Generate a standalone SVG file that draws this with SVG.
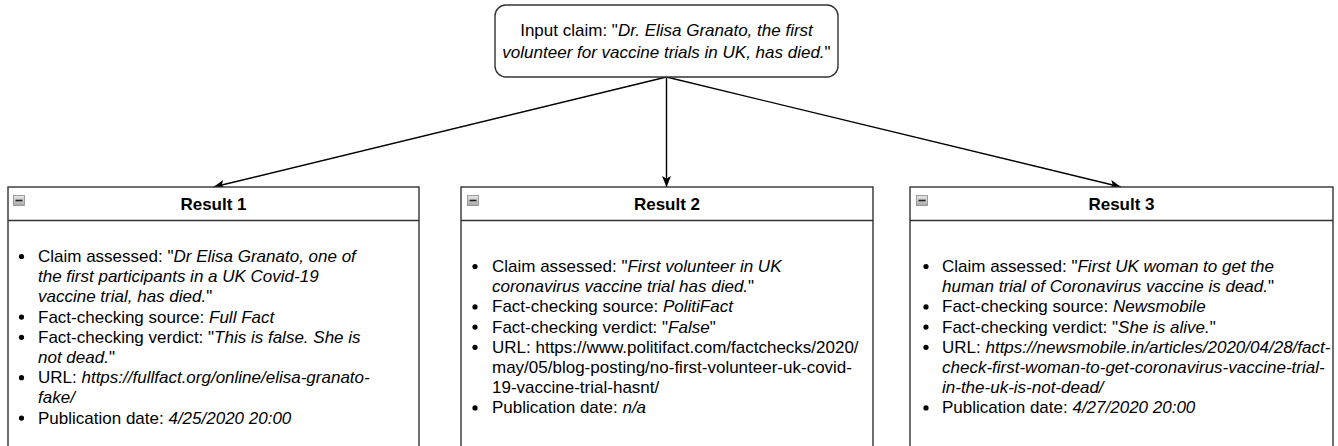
<svg xmlns="http://www.w3.org/2000/svg" width="1338" height="446" viewBox="0 0 1338 446">
<defs>
<marker id="arr" markerUnits="userSpaceOnUse" markerWidth="12" markerHeight="10" refX="11" refY="4.5" orient="auto">
<path d="M0,0 L11,4.5 L0,9 L2.5,4.5 z" fill="#000"/>
</marker>
<linearGradient id="ig" x1="0" y1="0" x2="0" y2="1">
<stop offset="0" stop-color="#e8e8e8"/>
<stop offset="1" stop-color="#a8a8a8"/>
</linearGradient>
</defs>
<style>
text{font-family:"Liberation Sans",Arial,sans-serif;font-size:17px;fill:#000}
.i{font-style:italic}
.t{font-weight:bold;text-anchor:middle}
.box{fill:#fff;stroke:#333;stroke-width:1.4}
.edge{stroke:#000;stroke-width:1.4;fill:none}
.icon{fill:url(#ig);stroke:#8a8a8a;stroke-width:0.8}
.minus{stroke:#222;stroke-width:1.6}
</style>
<rect width="1338" height="446" fill="#fff"/>
<g id="connectors">
<line class="edge" x1="666.5" y1="77" x2="213.5" y2="187" marker-end="url(#arr)"/>
<line class="edge" x1="666.5" y1="77" x2="666.5" y2="187" marker-end="url(#arr)"/>
<line class="edge" x1="666.5" y1="77" x2="1121" y2="187" marker-end="url(#arr)"/>
</g>
<g id="input">
<rect x="495" y="5" width="343" height="72" rx="11" ry="11" class="box"/>
<text x="666.5" y="36" text-anchor="middle">Input claim: "<tspan class="i">Dr. Elisa Granato, the first</tspan></text>
<text x="666.5" y="58" text-anchor="middle"><tspan class="i">volunteer for vaccine trials in UK, has died.</tspan>"</text>
</g>
<g id="result1">
<rect x="8" y="187" width="411" height="290" class="box"/>
<line x1="8" y1="220.5" x2="419" y2="220.5" stroke="#333" stroke-width="1.4"/>
<rect x="13.5" y="195.5" width="11" height="10" class="icon"/>
<line x1="15.5" y1="200.5" x2="22.5" y2="200.5" class="minus"/>
<text x="213.5" y="210" class="t">Result 1</text>
<circle cx="21.5" cy="256.5" r="2.6"/>
<text x="38" y="262">Claim assessed: "<tspan class="i">Dr Elisa Granato, one of</tspan></text>
<text x="38" y="282.2" class="i">the first participants in a UK Covid-19</text>
<text x="38" y="302.4"><tspan class="i">vaccine trial, has died.</tspan>"</text>
<circle cx="21.5" cy="317.1" r="2.6"/>
<text x="38" y="322.6">Fact-checking source: <tspan class="i">Full Fact</tspan></text>
<circle cx="21.5" cy="337.3" r="2.6"/>
<text x="38" y="342.8">Fact-checking verdict: "<tspan class="i">This is false. She is</tspan></text>
<text x="38" y="363"><tspan class="i">not dead.</tspan>"</text>
<circle cx="21.5" cy="377.7" r="2.6"/>
<text x="38" y="383.2">URL: <tspan class="i">https://fullfact.org/online/elisa-granato-</tspan></text>
<text x="38" y="403.4" class="i">fake/</text>
<circle cx="21.5" cy="418.1" r="2.6"/>
<text x="38" y="423.6">Publication date: <tspan class="i">4/25/2020 20:00</tspan></text>
</g>
<g id="result2">
<rect x="461" y="187" width="412" height="290" class="box"/>
<line x1="461" y1="220.5" x2="873" y2="220.5" stroke="#333" stroke-width="1.4"/>
<rect x="467.5" y="195.5" width="11" height="10" class="icon"/>
<line x1="469.5" y1="200.5" x2="476.5" y2="200.5" class="minus"/>
<text x="667" y="210" class="t">Result 2</text>
<circle cx="475" cy="266.5" r="2.6"/>
<text x="492" y="272">Claim assessed: "<tspan class="i">First volunteer in UK</tspan></text>
<text x="492" y="292.2"><tspan class="i">coronavirus vaccine trial has died.</tspan>"</text>
<circle cx="475" cy="306.9" r="2.6"/>
<text x="492" y="312.4">Fact-checking source: <tspan class="i">PolitiFact</tspan></text>
<circle cx="475" cy="327.1" r="2.6"/>
<text x="492" y="332.6">Fact-checking verdict: "<tspan class="i">False</tspan>"</text>
<circle cx="475" cy="347.3" r="2.6"/>
<text x="492" y="352.8">URL: https://www.politifact.com/factchecks/2020/</text>
<text x="492" y="373">may/05/blog-posting/no-first-volunteer-uk-covid-</text>
<text x="492" y="393.2">19-vaccine-trial-hasnt/</text>
<circle cx="475" cy="407.9" r="2.6"/>
<text x="492" y="413.4">Publication date: <tspan class="i">n/a</tspan></text>
</g>
<g id="result3">
<rect x="910" y="187" width="423" height="290" class="box"/>
<line x1="910" y1="220.5" x2="1333" y2="220.5" stroke="#333" stroke-width="1.4"/>
<rect x="916.5" y="195.5" width="11" height="10" class="icon"/>
<line x1="918.5" y1="200.5" x2="925.5" y2="200.5" class="minus"/>
<text x="1121.5" y="210" class="t">Result 3</text>
<circle cx="926" cy="266.5" r="2.6"/>
<text x="942" y="272">Claim assessed: "<tspan class="i">First UK woman to get the</tspan></text>
<text x="942" y="292.2"><tspan class="i">human trial of Coronavirus vaccine is dead.</tspan>"</text>
<circle cx="926" cy="306.9" r="2.6"/>
<text x="942" y="312.4">Fact-checking source: <tspan class="i">Newsmobile</tspan></text>
<circle cx="926" cy="327.1" r="2.6"/>
<text x="942" y="332.6">Fact-checking verdict: "<tspan class="i">She is alive.</tspan>"</text>
<circle cx="926" cy="347.3" r="2.6"/>
<text x="942" y="352.8">URL: <tspan class="i">https://newsmobile.in/articles/2020/04/28/fact-</tspan></text>
<text x="942" y="373" class="i">check-first-woman-to-get-coronavirus-vaccine-trial-</text>
<text x="942" y="393.2" class="i">in-the-uk-is-not-dead/</text>
<circle cx="926" cy="407.9" r="2.6"/>
<text x="942" y="413.4">Publication date: <tspan class="i">4/27/2020 20:00</tspan></text>
</g>
</svg>
